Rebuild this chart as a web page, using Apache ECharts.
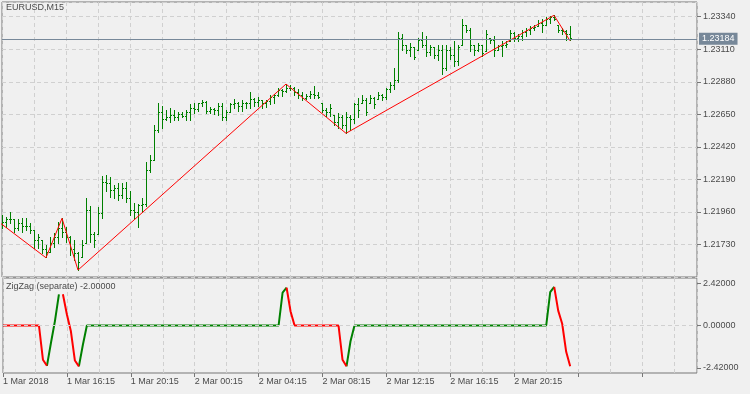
<!DOCTYPE html>
<html><head><meta charset="utf-8">
<script src="https://cdn.jsdelivr.net/npm/echarts@6/dist/echarts.min.js"></script>
<style>html,body{margin:0;padding:0;background:#f0f0f0;}#c{width:750px;height:394px;}</style>
</head><body><div id="c"></div>
<script>
const symbolName = 'EURUSD,M15';
const indicatorName = 'ZigZag (separate) -2.00000';
const currentPrice = 1.23184;
const timeLabels = ['1 Mar 2018','1 Mar 16:15','1 Mar 20:15','2 Mar 00:15','2 Mar 04:15','2 Mar 08:15','2 Mar 12:15','2 Mar 16:15','2 Mar 20:15'];
const oscLabelValues = [-2.42, 0, 2.42];

const opens = [1.21867,1.21888,1.21910,1.21903,1.21846,1.21881,1.21860,1.21860,1.21832,1.21761,
1.21761,1.21691,1.21676,1.21740,1.21776,1.21846,1.21818,1.21776,1.21691,1.21669,
1.21641,1.21740,1.21973,1.21797,1.21797,1.21952,1.22171,1.22164,1.22115,1.22129,
1.22079,1.22129,1.22058,1.21973,1.21959,1.22002,1.22009,1.22256,1.22327,1.22539,
1.22666,1.22610,1.22631,1.22645,1.22624,1.22652,1.22638,1.22666,1.22694,1.22687,
1.22723,1.22737,1.22673,1.22687,1.22680,1.22708,1.22624,1.22666,1.22716,1.22730,
1.22708,1.22723,1.22730,1.22758,1.22737,1.22751,1.22723,1.22744,1.22772,1.22786,
1.22815,1.22808,1.22836,1.22829,1.22801,1.22786,1.22765,1.22779,1.22793,1.22786,
1.22723,1.22680,1.22666,1.22645,1.22595,1.22624,1.22574,1.22624,1.22610,1.22716,
1.22723,1.22751,1.22723,1.22765,1.22758,1.22786,1.22772,1.22822,1.22857,1.22892,
1.23189,1.23140,1.23104,1.23119,1.23104,1.23175,1.23140,1.23090,1.23119,1.23069,
1.23104,1.22977,1.23104,1.23069,1.23020,1.23140,1.23281,1.23246,1.23140,1.23104,
1.23133,1.23097,1.23189,1.23175,1.23104,1.23126,1.23140,1.23168,1.23218,1.23189,
1.23203,1.23225,1.23246,1.23260,1.23274,1.23295,1.23281,1.23317,1.23331,1.23281,
1.23246,1.23232,1.23211];
const highs = [1.21938,1.21924,1.21959,1.21903,1.21903,1.21917,1.21917,1.21881,1.21832,1.21797,
1.21761,1.21726,1.21776,1.21811,1.21888,1.21915,1.21853,1.21783,1.21761,1.21676,
1.21761,1.22058,1.21995,1.21818,1.21988,1.22207,1.22221,1.22200,1.22150,1.22164,
1.22164,1.22171,1.22101,1.22023,1.22009,1.22058,1.22306,1.22362,1.22574,1.22730,
1.22708,1.22680,1.22694,1.22680,1.22666,1.22666,1.22680,1.22716,1.22723,1.22730,
1.22751,1.22744,1.22701,1.22694,1.22723,1.22723,1.22680,1.22730,1.22758,1.22737,
1.22751,1.22737,1.22801,1.22765,1.22772,1.22751,1.22751,1.22786,1.22793,1.22829,
1.22822,1.22864,1.22857,1.22843,1.22822,1.22801,1.22793,1.22808,1.22850,1.22801,
1.22730,1.22694,1.22716,1.22645,1.22659,1.22645,1.22666,1.22645,1.22730,1.22765,
1.22786,1.22765,1.22786,1.22772,1.22801,1.22793,1.22836,1.22878,1.22977,1.23225,
1.23211,1.23140,1.23154,1.23119,1.23189,1.23225,1.23203,1.23133,1.23119,1.23140,
1.23133,1.23140,1.23119,1.23168,1.23140,1.23317,1.23281,1.23260,1.23140,1.23154,
1.23140,1.23239,1.23189,1.23203,1.23140,1.23168,1.23168,1.23239,1.23225,1.23211,
1.23239,1.23260,1.23274,1.23281,1.23310,1.23317,1.23331,1.23345,1.23350,1.23281,
1.23260,1.23239,1.23274];
const lows = [1.21846,1.21853,1.21881,1.21818,1.21832,1.21818,1.21832,1.21811,1.21705,1.21705,
1.21669,1.21636,1.21676,1.21712,1.21740,1.21776,1.21747,1.21655,1.21620,1.21549,
1.21641,1.21740,1.21747,1.21712,1.21797,1.21917,1.22101,1.22065,1.22058,1.22044,
1.22058,1.22030,1.21938,1.21903,1.21853,1.21959,1.21995,1.22242,1.22327,1.22518,
1.22553,1.22603,1.22595,1.22603,1.22603,1.22624,1.22603,1.22603,1.22659,1.22673,
1.22708,1.22659,1.22659,1.22652,1.22645,1.22603,1.22603,1.22666,1.22694,1.22673,
1.22673,1.22694,1.22694,1.22708,1.22708,1.22694,1.22701,1.22716,1.22723,1.22779,
1.22779,1.22801,1.22815,1.22786,1.22765,1.22751,1.22758,1.22765,1.22765,1.22765,
1.22666,1.22638,1.22638,1.22574,1.22553,1.22553,1.22516,1.22539,1.22588,1.22624,
1.22723,1.22645,1.22723,1.22694,1.22758,1.22751,1.22758,1.22801,1.22822,1.22878,
1.23104,1.23083,1.23062,1.23034,1.23104,1.23119,1.23062,1.23069,1.23048,1.23027,
1.22928,1.22963,1.23034,1.22991,1.22998,1.23140,1.23225,1.23097,1.23069,1.23097,
1.23062,1.23097,1.23154,1.23062,1.23104,1.23062,1.23119,1.23168,1.23168,1.23168,
1.23175,1.23203,1.23211,1.23239,1.23274,1.23225,1.23281,1.23295,1.23310,1.23225,
1.23211,1.23175,1.23170];
const closes = [1.21888,1.21910,1.21903,1.21846,1.21881,1.21860,1.21860,1.21832,1.21761,1.21776,
1.21691,1.21676,1.21740,1.21776,1.21846,1.21818,1.21776,1.21691,1.21669,1.21606,
1.21726,1.21973,1.21797,1.21761,1.21952,1.22171,1.22164,1.22115,1.22129,1.22079,
1.22129,1.22058,1.21973,1.21959,1.22002,1.22009,1.22256,1.22327,1.22539,1.22666,
1.22610,1.22631,1.22645,1.22624,1.22652,1.22638,1.22666,1.22694,1.22687,1.22723,
1.22737,1.22673,1.22687,1.22680,1.22708,1.22624,1.22666,1.22716,1.22730,1.22708,
1.22723,1.22730,1.22758,1.22737,1.22751,1.22723,1.22744,1.22772,1.22786,1.22815,
1.22808,1.22836,1.22829,1.22801,1.22786,1.22765,1.22779,1.22793,1.22786,1.22772,
1.22680,1.22666,1.22694,1.22595,1.22624,1.22574,1.22624,1.22610,1.22716,1.22680,
1.22751,1.22666,1.22765,1.22716,1.22786,1.22772,1.22822,1.22857,1.22892,1.23189,
1.23140,1.23104,1.23119,1.23055,1.23175,1.23140,1.23090,1.23119,1.23069,1.23104,
1.22977,1.23104,1.23069,1.23020,1.23119,1.23281,1.23246,1.23140,1.23104,1.23133,
1.23083,1.23211,1.23175,1.23104,1.23126,1.23140,1.23147,1.23218,1.23189,1.23203,
1.23225,1.23246,1.23260,1.23267,1.23295,1.23281,1.23317,1.23331,1.23317,1.23246,
1.23232,1.23211,1.23184];

const zigzagIdx = [-3, 11, 15, 19, 71, 86, 138, 142];
const zigzagPrice = [1.21936, 1.21636, 1.21915, 1.21549, 1.22864, 1.22516, 1.23350, 1.23170];

const oscValues = [0,0,0,0,0,0,0,0,0,0,
-1.95,-2.3,-1.0,0.25,1.78,1.78,0.63,-0.33,-2.0,-2.33,
-1.1,0,0,0,0,0,0,0,0,0,
0,0,0,0,0,0,0,0,0,0,
0,0,0,0,0,0,0,0,0,0,
0,0,0,0,0,0,0,0,0,0,
0,0,0,0,0,0,0,0,0,0,
1.87,2.16,0.8,0,0,0,0,0,0,0,
0,0,0,0,0,-1.95,-2.33,-0.9,0,0,
0,0,0,0,0,0,0,0,0,0,
0,0,0,0,0,0,0,0,0,0,
0,0,0,0,0,0,0,0,0,0,
0,0,0,0,0,0,0,0,0,0,
0,0,0,0,0,0,0,1.9,2.2,0.85,
0.1,-1.5,-2.33];
const oscUpLegs = [[11,14],[19,71],[86,138]];
const oscDownLegs = [[0,11],[15,19],[71,86],[138,142]];

const GREEN = '#008000', RED = '#ff0000', GRIDC = '#d0d0d0', FRAME = '#767676', TXT = '#4b4b4b', PRICEC = '#778899';
const X_MAX = 173.75;

function inLegs(i, legs){ return legs.some(l => i >= l[0] && i <= l[1]); }

const ohlc = opens.map((o, i) => [i, o, highs[i], lows[i], closes[i]]);
const zigzag = zigzagIdx.map((x, k) => [x, zigzagPrice[k]]);
const oscGreen = oscValues.map((v, i) => [i, inLegs(i, oscUpLegs) ? v : '-']);
const oscRed = oscValues.map((v, i) => [i, inLegs(i, oscDownLegs) ? v : '-']);

function renderBar(params, api) {
  const i = api.value(0);
  const pO = api.coord([i, api.value(1)]);
  const pH = api.coord([i, api.value(2)]);
  const pL = api.coord([i, api.value(3)]);
  const pC = api.coord([i, api.value(4)]);
  const x = Math.floor(pH[0]) + 0.5;
  const yH = Math.floor(pH[1]);
  const yL = Math.floor(pL[1]) + 1;
  const yO = Math.floor(pO[1]) + 0.5;
  const yC = Math.floor(pC[1]) + 0.5;
  const st = {stroke: GREEN, lineWidth: 1, fill: null};
  return {type: 'group', children: [
    {type: 'line', shape: {x1: x, y1: yH, x2: x, y2: yL}, style: st},
    {type: 'line', shape: {x1: x - 1.5, y1: yO, x2: x - 0.5, y2: yO}, style: st},
    {type: 'line', shape: {x1: x + 0.5, y1: yC, x2: x + 1.5, y2: yC}, style: st}
  ]};
}

const dash = {color: GRIDC, type: [4, 3], width: 1};
const noLine = {show: false, onZero: false};
const chart = echarts.init(document.getElementById('c'), null, {renderer: 'canvas'});
chart.setOption({
  backgroundColor: '#f0f0f0',
  animation: false,
  textStyle: {fontFamily: 'Liberation Sans, Arial, sans-serif', fontSize: 9, color: TXT},
  title: [
    {text: symbolName, left: 6, top: 3, padding: 0, textStyle: {fontSize: 9, fontWeight: 'normal', color: TXT, fontFamily: 'Liberation Sans'}},
    {text: indicatorName, left: 6, top: 282, padding: 0, textStyle: {fontSize: 9, fontWeight: 'normal', color: TXT, fontFamily: 'Liberation Sans'}}
  ],
  grid: [
    {left: 2, top: 2, width: 695, height: 275, show: true, borderColor: FRAME, borderWidth: 1, backgroundColor: 'transparent'},
    {left: 2, top: 278, width: 695, height: 95, show: true, borderColor: FRAME, borderWidth: 1, backgroundColor: 'transparent'}
  ],
  xAxis: [
    {gridIndex: 0, type: 'value', min: 0, max: X_MAX, interval: 8, axisLine: noLine, axisTick: {show: false}, axisLabel: {show: false}, splitLine: {show: true, lineStyle: dash}},
    {gridIndex: 1, type: 'value', min: 0, max: X_MAX, interval: 16, position: 'bottom', axisLine: noLine,
      axisTick: {show: true, length: 4, lineStyle: {color: FRAME}},
      axisLabel: {show: true, align: 'left', margin: 4, color: TXT, fontSize: 9, showMaxLabel: false,
        formatter: v => (v % 16 === 0 && timeLabels[v / 16]) ? timeLabels[v / 16] : ''},
      splitLine: {show: false}},
    {gridIndex: 1, type: 'value', min: 0, max: X_MAX, interval: 8, position: 'top', axisLine: noLine, axisTick: {show: false}, axisLabel: {show: false}, splitLine: {show: true, lineStyle: dash}}
  ],
  yAxis: [
    {gridIndex: 0, type: 'value', position: 'right', min: 1.215, max: 1.23444, interval: 0.0023,
      axisLine: noLine, axisTick: {show: true, length: 4, lineStyle: {color: FRAME}},
      axisLabel: {margin: 6, color: TXT, fontSize: 9, showMinLabel: false, showMaxLabel: false, formatter: v => v.toFixed(5)},
      splitLine: {show: true, lineStyle: dash}},
    {gridIndex: 1, type: 'value', position: 'right', min: -2.71, max: 2.71,
      axisLine: noLine, axisTick: {show: true, length: 4, customValues: oscLabelValues, lineStyle: {color: FRAME}},
      axisLabel: {margin: 6, color: TXT, fontSize: 9, customValues: oscLabelValues, formatter: v => v.toFixed(5)},
      splitLine: {show: false}}
  ],
  series: [
    {type: 'custom', name: 'bars', xAxisIndex: 0, yAxisIndex: 0, data: ohlc, renderItem: renderBar, clip: true, z: 2,
      encode: {x: 0, y: [1, 2, 3, 4]}, silent: true},
    {type: 'line', name: 'zigzag', xAxisIndex: 0, yAxisIndex: 0, data: zigzag, symbol: 'none', clip: true, z: 3, silent: true,
      lineStyle: {color: RED, width: 1},
      markLine: {silent: true, symbol: ['none', 'none'], animation: false, precision: 5,
        lineStyle: {color: PRICEC, width: 1, type: 'solid'},
        label: {show: true, position: 'end', distance: 2, formatter: currentPrice.toFixed(5), color: '#ffffff', backgroundColor: PRICEC, padding: [2, 3, 1, 3], fontSize: 9},
        data: [{yAxis: currentPrice}]}},
    {type: 'line', name: 'oscUp', xAxisIndex: 1, yAxisIndex: 1, data: oscGreen, symbol: 'none', z: 4, silent: true, connectNulls: false,
      lineStyle: {color: GREEN, width: 2}},
    {type: 'line', name: 'oscDown', xAxisIndex: 1, yAxisIndex: 1, data: oscRed, symbol: 'none', z: 4, silent: true, connectNulls: false,
      lineStyle: {color: RED, width: 2},
      markLine: {silent: true, symbol: ['none', 'none'], animation: false, precision: 5, label: {show: false},
        lineStyle: dash, data: [{yAxis: 0}]}}
  ]
});
</script></body></html>
